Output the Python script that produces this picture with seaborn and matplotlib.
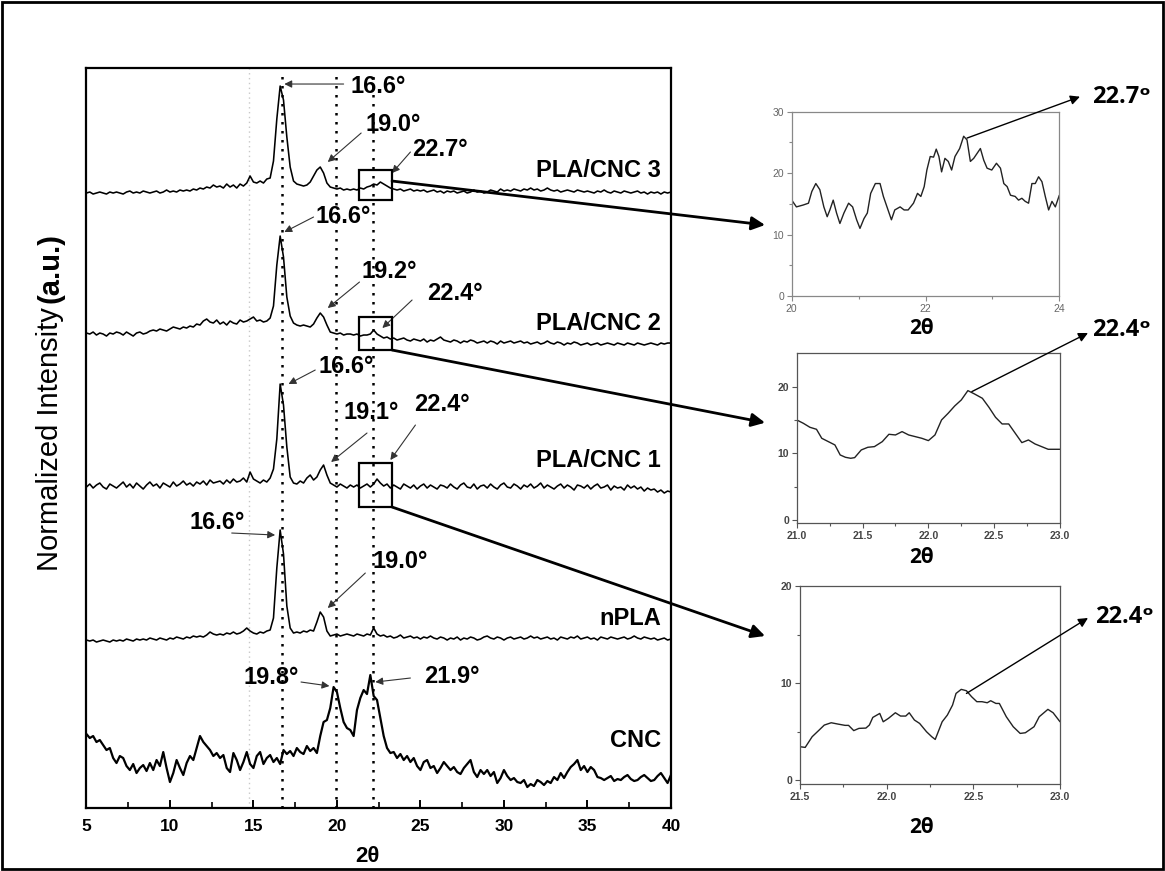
import numpy as np
import pandas as pd
import matplotlib
matplotlib.use('Agg')
import matplotlib.pyplot as plt
import seaborn as sns
from matplotlib.patches import Rectangle
from matplotlib.ticker import MultipleLocator, FormatStrFormatter

# ---------------- data ---------------- #
# main XRD patterns, sampled every 0.2 deg from 5 to 40 (2 theta)
two_theta = np.round(np.arange(5.0, 40.01, 0.2), 1)

samples = ['PLA/CNC 3', 'PLA/CNC 2', 'PLA/CNC 1', 'nPLA', 'CNC']
offsets = [615, 475, 321, 168, 0]   # vertical stacking of the patterns

pla_cnc3 = [0, 1, -1, 0, 1, 0, -1, 1, 0, 1,
            0, -1, 1, 2, 0, 1, 0, 2, 1, 0,
            1, 2, 0, 1, 3, 1, 2, 1, 3, 2,
            3, 2, 4, 3, 5, 4, 6, 5, 8, 6,
            7, 5, 9, 6, 8, 5, 9, 7, 10, 17,
            11, 10, 12, 10, 14, 15, 32, 74, 107, 93,
            56, 26, 12, 9, 8, 7, 8, 11, 17, 23,
            26, 20, 10, 6, 5, 4, 5, 3, 4, 3,
            4, 3, 5, 4, 6, 7, 9, 8, 11, 9,
            7, 5, 4, 3, 4, 2, 3, 4, 2, 3,
            2, 3, 1, 2, 3, 1, 2, 0, 2, 1,
            2, 0, 1, 2, 0, 1, 3, 1, 2, 0,
            1, 3, 2, 1, 4, 2, 3, 2, 4, 3,
            2, 4, 3, 5, 3, 4, 2, 3, 5, 3,
            2, 3, 1, 2, 3, 2, 1, 3, 2, 1,
            2, 1, 0, 2, 1, 3, 1, 0, 2, 1,
            0, 2, 1, 0, 1, 2, 0, 1, -1, 1,
            0, 1, -1, 1, 0, 1]

pla_cnc2 = [0, -1, 1, -2, 0, -1, -3, 0, -1, 1,
            0, -2, 1, -1, -3, 0, 1, -1, 0, 2,
            3, 2, 4, 3, 2, 4, 6, 5, 4, 6,
            5, 7, 6, 9, 8, 12, 14, 11, 10, 13,
            9, 11, 8, 12, 10, 9, 13, 11, 12, 14,
            16, 12, 13, 11, 12, 15, 27, 68, 97, 76,
            36, 17, 10, 8, 7, 8, 7, 6, 9, 15,
            20, 16, 8, 1, 0, -1, 0, -2, -1, -1,
            -2, -1, -3, -2, -2, -1, 3, -1, -3, -5,
            -4, -6, -5, -7, -6, -5, -7, -8, -6, -7,
            -8, -6, -9, -7, -8, -6, -4, -7, -8, -9,
            -7, -8, -10, -8, -9, -7, -8, -10, -9, -8,
            -10, -8, -9, -11, -8, -10, -9, -8, -10, -9,
            -8, -10, -9, -11, -10, -9, -11, -10, -8, -10,
            -11, -9, -10, -12, -10, -11, -9, -10, -12, -11,
            -10, -12, -11, -10, -12, -11, -10, -11, -12, -10,
            -11, -12, -10, -11, -12, -10, -11, -12, -11, -10,
            -11, -12, -10, -11, -10, -10]

pla_cnc1 = [0, 3, -1, 2, 4, 0, -2, 3, 1, -1,
            2, 5, 0, 3, -1, 4, 1, -2, 2, 5,
            1, 3, -1, 4, 2, 0, 5, 1, 3, 6,
            2, 4, 1, 5, 3, 6, 2, 7, 4, 5,
            6, 3, 7, 4, 8, 5, 6, 9, 5, 15,
            8, 6, 4, 7, 5, 9, 18, 48, 103, 82,
            40, 10, 4, 3, 6, 4, 9, 12, 7, 10,
            17, 22, 12, 4, 2, 0, 3, 1, -1, 2,
            0, 2, -1, 1, 3, 0, 3, 8, 4, 1,
            3, -1, 2, 0, -2, 3, 1, -1, 2, -2,
            1, 3, -1, 2, 0, -2, 2, 1, -1, 3,
            0, -2, 2, 4, 0, -1, 3, -2, 1, 2,
            -1, 3, 0, -2, 2, 4, 0, -1, 3, 1,
            -2, 2, 0, 3, -1, 1, 4, -1, 2, 0,
            -2, 1, 3, -1, 2, 0, -3, 2, 1, -1,
            2, -2, 1, 3, -1, 0, 2, -3, 1, -1,
            0, -3, 2, -1, 1, -2, 0, -4, -1, -3,
            -2, -5, -3, -6, -4, -5]

npla = [0, -1, 0, -2, -1, 0, -1, -2, 0, -1,
        0, -1, 1, 0, -1, 1, 0, 1, 0, 2,
        1, 0, 2, 1, 0, 2, 1, 3, 2, 1,
        3, 2, 4, 3, 4, 3, 5, 8, 6, 5,
        6, 5, 7, 6, 8, 6, 7, 9, 12, 9,
        7, 6, 8, 7, 9, 10, 22, 72, 110, 86,
        34, 12, 7, 8, 7, 9, 8, 10, 9, 18,
        28, 23, 9, 4, 5, 6, 4, 5, 6, 5,
        4, 6, 5, 4, 6, 5, 12, 6, 4, 5,
        3, 4, 2, 3, 5, 2, 3, 4, 2, 3,
        1, 3, 2, 4, 2, 1, 3, 2, 0, 2,
        1, 3, 0, 2, 1, 3, 2, 0, 1, 3,
        4, 2, 1, 3, 2, 0, 2, 3, 1, 2,
        3, 1, 2, 4, 2, 3, 1, 2, 3, 1,
        2, 0, 3, 2, 1, 3, 2, 4, 1, 2,
        3, 1, 2, 0, 3, 2, 1, 3, 2, 1,
        2, 3, 1, 2, 4, 2, 1, 3, 2, 1,
        2, 0, 1, 2, 0, 1]

cnc = [74, 70, 72, 66, 68, 63, 58, 60, 50, 45,
       52, 50, 42, 38, 44, 35, 40, 43, 37, 45,
       38, 48, 42, 56, 40, 26, 35, 48, 40, 33,
       45, 52, 48, 60, 72, 66, 62, 58, 52, 55,
       50, 53, 40, 36, 55, 48, 38, 46, 56, 44,
       40, 52, 56, 44, 50, 53, 46, 50, 44, 58,
       54, 57, 52, 60, 56, 54, 62, 57, 60, 55,
       72, 86, 88, 100, 121, 116, 100, 86, 80, 78,
       72, 98, 110, 118, 114, 133, 112, 108, 90, 72,
       60, 55, 56, 50, 54, 48, 52, 46, 50, 42,
       38, 46, 48, 40, 42, 35, 40, 46, 42, 38,
       41, 36, 34, 40, 44, 48, 36, 31, 38, 34,
       38, 32, 36, 25, 30, 38, 32, 28, 30, 26,
       25, 28, 21, 24, 22, 28, 26, 23, 27, 25,
       31, 28, 35, 30, 36, 41, 44, 48, 38, 42,
       36, 41, 38, 31, 30, 28, 30, 32, 27, 29,
       28, 31, 33, 29, 27, 28, 31, 33, 30, 27,
       28, 32, 35, 30, 25, 33]

traces = [pla_cnc3, pla_cnc2, pla_cnc1, npla, cnc]

# zoomed insets
inset1_x = [20.00, 20.07, 20.17, 20.25, 20.30, 20.36, 20.42, 20.48, 20.53, 20.57,
            20.62, 20.67, 20.72, 20.78, 20.85, 20.91, 20.97, 21.02, 21.08, 21.13,
            21.18, 21.25, 21.32, 21.37, 21.43, 21.49, 21.54, 21.62, 21.68, 21.74,
            21.82, 21.88, 21.93, 21.98, 22.02, 22.07, 22.12, 22.16, 22.20, 22.24,
            22.29, 22.34, 22.39, 22.44, 22.51, 22.57, 22.62, 22.67, 22.72, 22.77,
            22.82, 22.87, 22.92, 22.99, 23.06, 23.12, 23.17, 23.22, 23.27, 23.34,
            23.39, 23.44, 23.49, 23.54, 23.59, 23.64, 23.69, 23.74, 23.79, 23.84,
            23.89, 23.94, 24.00]
inset1_y = [15.6, 14.5, 14.8, 15.1, 17.0, 18.3, 17.3, 14.5, 12.9, 14.0,
            15.6, 13.5, 11.8, 13.5, 15.1, 14.5, 12.4, 11.0, 12.6, 13.5,
            16.7, 18.3, 18.3, 16.2, 14.3, 12.4, 14.0, 14.5, 14.0, 14.0,
            15.1, 16.7, 16.2, 17.8, 20.5, 22.7, 22.6, 23.9, 22.7, 20.2,
            22.4, 21.9, 20.5, 22.7, 24.0, 26.0, 25.4, 21.9, 22.4, 23.2,
            24.0, 22.1, 20.8, 20.5, 21.6, 20.8, 18.3, 17.8, 16.4, 16.2,
            15.6, 15.9, 15.4, 15.1, 18.3, 18.3, 19.4, 18.6, 16.2, 14.0,
            15.4, 14.5, 16.4]

inset2_x = [21.00, 21.05, 21.10, 21.15, 21.19, 21.24, 21.29, 21.33, 21.37, 21.41,
            21.44, 21.49, 21.54, 21.59, 21.65, 21.70, 21.75, 21.80, 21.85, 21.90,
            21.95, 22.00, 22.05, 22.10, 22.15, 22.20, 22.25, 22.30, 22.35, 22.41,
            22.46, 22.51, 22.56, 22.61, 22.66, 22.71, 22.76, 22.81, 22.86, 22.91,
            22.96, 23.00]
inset2_y = [15.0, 14.5, 13.9, 13.6, 12.25, 11.75, 11.25, 9.75, 9.4, 9.25,
            9.35, 10.5, 10.9, 11.0, 11.75, 12.85, 12.75, 13.25, 12.75, 12.5,
            12.25, 11.9, 12.75, 15.0, 16.0, 17.1, 18.0, 19.4, 18.9, 18.25,
            16.9, 15.4, 14.4, 14.4, 13.0, 11.6, 12.0, 11.4, 11.0, 10.6,
            10.6, 10.6]

inset3_x = [21.50, 21.53, 21.57, 21.61, 21.64, 21.68, 21.72, 21.76, 21.78, 21.81,
            21.84, 21.88, 21.90, 21.92, 21.96, 21.98, 22.01, 22.05, 22.08, 22.11,
            22.13, 22.16, 22.19, 22.23, 22.26, 22.28, 22.32, 22.35, 22.38, 22.40,
            22.43, 22.46, 22.49, 22.52, 22.55, 22.58, 22.60, 22.63, 22.65, 22.69,
            22.73, 22.77, 22.80, 22.85, 22.88, 22.93, 22.96, 23.00]
inset3_y = [3.44, 3.37, 4.47, 5.15, 5.67, 5.91, 5.77, 5.64, 5.64, 5.1,
            5.33, 5.36, 5.67, 6.46, 6.87, 6.01, 6.36, 6.94, 6.6, 6.6,
            6.94, 6.19, 5.84, 4.98, 4.47, 4.19, 6.01, 6.70, 7.73, 8.93,
            9.35, 9.21, 8.59, 8.08, 8.08, 7.97, 8.18, 7.9, 7.9, 6.53,
            5.5, 4.81, 4.88, 5.5, 6.53, 7.29, 6.94, 6.01]

peak_lines = [16.7, 19.95, 22.15]

# ---------------- plotting ---------------- #
sns.set_theme(style='white')
plt.rcParams['font.family'] = ['Liberation Sans', 'DejaVu Sans']
plt.rcParams.update({'text.color': 'black', 'axes.labelcolor': 'black',
                     'xtick.color': 'black', 'ytick.color': 'black'})

frames = []
for name, off, vals in zip(samples, offsets, traces):
    frames.append(pd.DataFrame({'two_theta': two_theta,
                                'intensity': np.array(vals) + off,
                                'sample': name}))
df = pd.concat(frames, ignore_index=True)

fig = plt.figure(figsize=(11.65, 8.71), dpi=100)
ax = fig.add_axes([0.0742, 0.0723, 0.5017, 0.8496])

for name in samples:
    sns.lineplot(data=df[df['sample'] == name], x='two_theta', y='intensity',
                 color='black', lw=1.6 if name == 'CNC' else 1.15,
                 estimator=None, sort=False, legend=False, ax=ax)

ax.axvline(14.75, color='#c8c8c8', ls=(0, (1, 2.5)), lw=1.0, zorder=0)
for xv in peak_lines:
    ax.axvline(xv, ymax=0.995, color='black', ls=(0, (1, 2.6)), lw=1.8, zorder=1)

ax.set_xlim(5, 40)
ax.set_ylim(0, 740)
ax.set_xlabel('')
ax.set_ylabel('')
ax.xaxis.set_major_locator(MultipleLocator(5))
ax.xaxis.set_minor_locator(MultipleLocator(2.5))
ax.tick_params(axis='x', which='major', direction='in', length=6, width=1.4,
               bottom=True, top=False, pad=8, labelsize=12.5)
ax.tick_params(axis='x', which='minor', direction='in', length=4, width=1.2,
               bottom=True, top=False)
ax.tick_params(axis='y', left=False, labelleft=False)
for lab in ax.get_xticklabels():
    lab.set_fontweight('bold')
for sp in ax.spines.values():
    sp.set_linewidth(1.6)
    sp.set_color('black')

# zoom boxes on the three composite patterns
boxes = [(21.3, 608, 2.0, 30), (21.3, 458, 2.0, 33), (21.3, 301, 2.0, 44)]
for bx, by, bw, bh in boxes:
    ax.add_patch(Rectangle((bx, by), bw, bh, fill=False, ec='black', lw=1.6, zorder=4))

# peak labels: (text, text x, text y, tail, head)
peak_notes = [
    ('16.6°', 20.8, 722, (20.4, 724), (16.85, 724)),
    ('19.0°', 21.7, 684, (21.45, 675), (19.45, 646)),
    ('22.7°', 24.5, 659, (24.4, 656), (23.3, 635)),
    ('16.6°', 18.7, 592, (18.6, 591), (16.85, 576)),
    ('19.2°', 21.5, 537, (21.35, 526), (19.45, 500)),
    ('22.4°', 25.4, 515, (24.5, 508), (22.72, 480)),
    ('16.6°', 18.9, 442, (18.7, 438), (17.1, 424)),
    ('19.1°', 20.4, 396, (21.8, 375), (19.65, 346)),
    ('22.4°', 24.6, 404, (24.7, 383), (23.2, 348)),
    ('16.6°', 11.2, 286, (13.7, 275), (16.3, 273)),
    ('19.0°', 22.1, 247, (21.7, 235), (19.45, 200)),
    ('19.8°', 14.4, 131, (17.85, 126), (19.55, 122)),
    ('21.9°', 25.2, 132, (24.4, 130), (22.3, 126)),
]
for txt, tx, ty, tail, head in peak_notes:
    ax.text(tx, ty, txt, ha='left', va='center', fontsize=17, fontweight='bold', zorder=5)
    ax.annotate('', xy=head, xytext=tail,
                arrowprops=dict(arrowstyle='-|>', color='#333333', lw=0.8,
                                mutation_scale=11, shrinkA=0, shrinkB=0))

sample_labels = [('PLA/CNC 3', 638), ('PLA/CNC 2', 485), ('PLA/CNC 1', 348),
                 ('nPLA', 190), ('CNC', 68)]
for txt, ty in sample_labels:
    ax.text(39.4, ty, txt, ha='right', va='center', fontsize=17, fontweight='bold')

fig.text(0.315, 0.0161, '2θ', ha='center', va='center', fontsize=16, fontweight='bold')
fig.text(0.043, 0.6475, 'Normalized Intensity', rotation=90, ha='center', va='top',
         fontsize=21)
fig.text(0.043, 0.652, '(a.u.)', rotation=90, ha='center', va='bottom', fontsize=21,
         fontweight='bold')


# ---------------- insets ---------------- #
def draw_inset(rect, x, y, xlim, ylim, xmajor, xminor, yticks, yminor, xfmt, weight, tcolor, scolor):
    iax = fig.add_axes(rect)
    sns.lineplot(x=x, y=y, color='#222222', lw=1.0, estimator=None, sort=False, ax=iax)
    iax.set_xlim(*xlim)
    iax.set_ylim(*ylim)
    iax.set_xlabel('')
    iax.set_ylabel('')
    iax.xaxis.set_major_locator(MultipleLocator(xmajor))
    iax.xaxis.set_minor_locator(MultipleLocator(xminor))
    iax.xaxis.set_major_formatter(FormatStrFormatter(xfmt))
    iax.set_yticks(yticks)
    iax.set_yticks(yminor, minor=True)
    iax.tick_params(which='major', direction='out', length=3.5, width=0.8, color=scolor,
                    labelsize=7.5, labelcolor=tcolor, pad=2, bottom=True, left=True)
    iax.tick_params(which='minor', direction='out', length=2, width=0.8, color=scolor,
                    bottom=True, left=True)
    for lab in iax.get_xticklabels() + iax.get_yticklabels():
        lab.set_fontweight(weight)
    for sp in iax.spines.values():
        sp.set_linewidth(0.9)
        sp.set_color(scolor)
    return iax


in1 = draw_inset([0.6796, 0.6602, 0.2297, 0.2116], inset1_x, inset1_y, (20, 24), (0, 30),
                 2, 1, [0, 10, 20, 30], [5, 15, 25], '%d', 'normal', '#666666', '#888888')
in2 = draw_inset([0.6839, 0.3992, 0.2260, 0.1952], inset2_x, inset2_y, (21, 23), (-0.5, 25),
                 0.5, 0.25, [0, 10, 20], [5, 15], '%.1f', 'bold', '#444444', '#555555')
in3 = draw_inset([0.6867, 0.0999, 0.2232, 0.2273], inset3_x, inset3_y, (21.5, 23), (-0.4, 20),
                 0.5, 0.25, [0, 10, 20], [5, 15], '%.1f', 'bold', '#444444', '#555555')

for ty in [0.6234, 0.3605, 0.0494]:
    fig.text(0.7914, ty, '2θ', ha='center', va='center', fontsize=15, fontweight='bold',
             family=['Open Sans', 'DejaVu Sans'])

inset_notes = [
    (in1, (22.62, 25.7), (0.927, 0.889), (0.9373, 0.8886), '22.7ᵒ'),
    (in2, (22.33, 19.25), (0.9339, 0.6177), (0.9373, 0.6211), '22.4ᵒ'),
    (in3, (22.46, 8.93), (0.9339, 0.2905), (0.9399, 0.2916), '22.4ᵒ'),
]
for iax, peak, head, tpos, txt in inset_notes:
    iax.annotate('', xy=head, xycoords='figure fraction', xytext=peak, textcoords='data',
                 annotation_clip=False,
                 arrowprops=dict(arrowstyle='-|>', color='black', lw=1.0,
                                 mutation_scale=14, shrinkA=0, shrinkB=0))
    fig.text(tpos[0], tpos[1], txt, ha='left', va='center', fontsize=17, fontweight='bold',
             family=['Open Sans', 'DejaVu Sans'])

# thick arrows from the boxes to the insets
links = [((23.3, 627), (0.6567, 0.7417)),
         ((23.3, 458), (0.6567, 0.5147)),
         ((23.3, 301), (0.6567, 0.2698))]
for start, end in links:
    ax.annotate('', xy=end, xycoords='figure fraction', xytext=start, textcoords='data',
                annotation_clip=False,
                arrowprops=dict(arrowstyle='-|>', color='black', lw=2.0,
                                mutation_scale=20, shrinkA=0, shrinkB=0), zorder=6)

fig.add_artist(Rectangle((0.002, 0.002), 0.996, 0.996, transform=fig.transFigure,
                         fill=False, ec='black', lw=2))

fig.savefig('out.png', dpi=100)
